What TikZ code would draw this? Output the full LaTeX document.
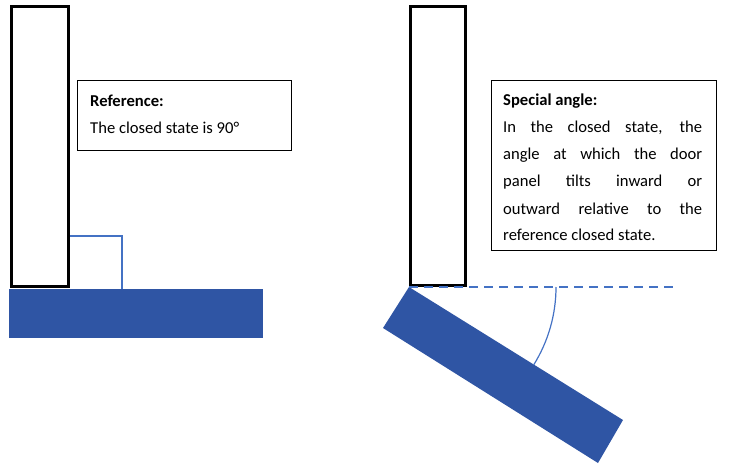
\documentclass[tikz,border=0pt]{standalone}
\usepackage{fontspec}
\setmainfont{Carlito}
\definecolor{barblue}{HTML}{2F55A4}
\definecolor{lineblue}{HTML}{4472C4}
\tikzset{
  door/.style={draw=black, line width=3pt},
  bar/.style={fill=barblue, draw=none},
  note/.style={draw=black, line width=0.6pt, fill=white, anchor=north west, inner sep=0pt},
  txt/.style={anchor=west, inner sep=0pt},
}
\newcommand{\jline}[1]{\makebox[199pt][s]{#1}}
\begin{document}
\begin{tikzpicture}[x=1pt, y=-1pt, font=\fontsize{16.6}{27}\selectfont]
		\useasboundingbox (0,0) rectangle (738,474);
		% left: reference state
		\fill[bar] (9,289) rectangle (263,338);
		\draw[lineblue, line width=1.2pt] (69,236) -- (122,236) -- (122,289);
		\draw[door] (11,6) rectangle (68,286);
		\node[note, minimum width=214pt, minimum height=70pt] (refbox) at (77,80) {};
		\node[txt, font=\fontsize{16.6}{27}\selectfont\bfseries] at (90,101) {Reference:};
		\node[txt] at (90,128) {The closed state is 90°};
		% right: special angle
		\fill[bar] (409,287) -- (623,420) -- (598,463) -- (383,328) -- cycle;
		\draw[door] (410,6) rectangle (465,285);
		\draw[lineblue, dashed, dash pattern=on 9pt off 6pt, line width=1.5pt] (409,287) -- (676,287);
		\draw[lineblue, line width=1.2pt] (556,287) arc[start angle=0, end angle=31.9, radius=147];
		\node[note, minimum width=225pt, minimum height=170pt] (specbox) at (491,80) {};
		\node[txt, font=\fontsize{16.6}{27}\selectfont\bfseries] at (503,101) {Special angle:};
		\node[txt] at (503,128) {\jline{In the closed state, the}};
		\node[txt] at (503,155) {\jline{angle at which the door}};
		\node[txt] at (503,182) {\jline{panel tilts inward or}};
		\node[txt] at (503,209) {\jline{outward relative to the}};
		\node[txt] at (503,235) {reference closed state.};
\end{tikzpicture}
\end{document}
